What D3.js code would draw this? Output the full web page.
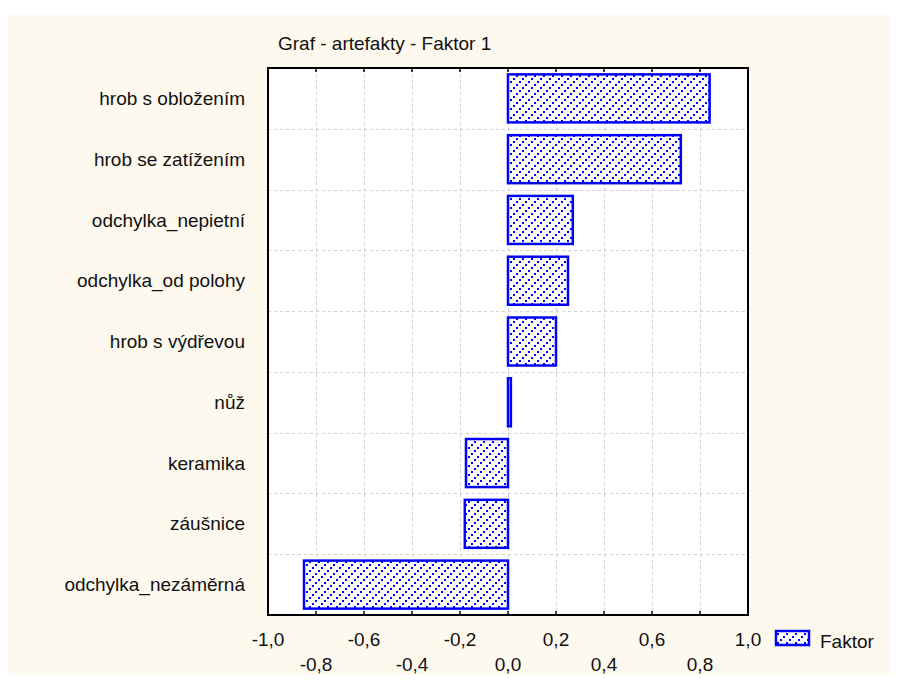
<!DOCTYPE html>
<html>
<head>
<meta charset="utf-8">
<script src="https://cdn.jsdelivr.net/npm/d3@7"></script>
<style>
  body { margin: 0; background: #fff; }
  text { font-family: "Liberation Sans", Arial, sans-serif; fill: #111; }
</style>
</head>
<body>
<div id="chart"></div>
<script>
// chart data
var categories = ["hrob s obložením", "hrob se zatížením", "odchylka_nepietní", "odchylka_od polohy",
                  "hrob s výdřevou", "nůž", "keramika", "záušnice", "odchylka_nezáměrná"];
var values = [0.84, 0.72, 0.27, 0.25, 0.20, 0.012, -0.175, -0.18, -0.85];
var tickValues = [-1.0, -0.8, -0.6, -0.4, -0.2, 0.0, 0.2, 0.4, 0.6, 0.8, 1.0];
var title = "Graf - artefakty - Faktor 1";
var seriesName = "Faktor";

var width = 898, height = 680;
var plot = { left: 268, right: 748, top: 68, bottom: 615 };
var blue = "#0000ff";

var svg = d3.select("#chart").append("svg")
    .attr("width", width)
    .attr("height", height);

// hatch fill: dotted diagonal lines
var defs = svg.append("defs");
var pat = defs.append("pattern")
    .attr("id", "hatch")
    .attr("patternUnits", "userSpaceOnUse")
    .attr("width", 9).attr("height", 9);
pat.append("rect").attr("width", 9).attr("height", 9).attr("fill", "#fff");
[[0, 6], [3, 3], [6, 0]].forEach(function(p) {
    pat.append("rect").attr("x", p[0]).attr("y", p[1])
        .attr("width", 2).attr("height", 2)
        .attr("fill", blue).attr("shape-rendering", "crispEdges");
});

// cream panel
svg.append("rect")
    .attr("x", 8).attr("y", 15)
    .attr("width", 882).attr("height", 660)
    .attr("fill", "#fef9ee");

var x = d3.scaleLinear().domain([-1, 1]).range([plot.left, plot.right]);
var y = d3.scaleBand().domain(categories).range([plot.top, plot.bottom]).paddingInner(0.21).paddingOuter(0.105);
var band = d3.scaleBand().domain(categories).range([plot.top, plot.bottom]);

svg.append("rect")
    .attr("x", plot.left).attr("y", plot.top)
    .attr("width", plot.right - plot.left).attr("height", plot.bottom - plot.top)
    .attr("fill", "#fff");

// grid lines
svg.append("g").selectAll("line")
    .data(tickValues.slice(1, -1))
    .enter().append("line")
    .attr("x1", d => x(d) + 0.5).attr("x2", d => x(d) + 0.5)
    .attr("y1", plot.top).attr("y2", plot.bottom)
    .attr("stroke", "#cfcfcf").attr("stroke-dasharray", "3,3");
svg.append("g").selectAll("line")
    .data(categories.slice(1))
    .enter().append("line")
    .attr("x1", plot.left).attr("x2", plot.right)
    .attr("y1", d => Math.round(band(d)) + 0.5).attr("y2", d => Math.round(band(d)) + 0.5)
    .attr("stroke", "#cfcfcf").attr("stroke-dasharray", "3,3");

// bars
svg.append("g").selectAll("rect")
    .data(values)
    .enter().append("rect")
    .attr("x", d => x(Math.min(0, d)))
    .attr("y", (d, i) => y(categories[i]))
    .attr("width", d => Math.abs(x(d) - x(0)))
    .attr("height", y.bandwidth())
    .attr("fill", "url(#hatch)")
    .attr("stroke", blue)
    .attr("stroke-width", 2.5);

// ticks on top and bottom, pointing inward
var tickG = svg.append("g");
tickG.selectAll(".tt").data(tickValues).enter().append("line")
    .attr("x1", d => x(d)).attr("x2", d => x(d))
    .attr("y1", plot.top).attr("y2", plot.top + 4)
    .attr("stroke", "#000").attr("stroke-width", 1.5);
tickG.selectAll(".tb").data(tickValues).enter().append("line")
    .attr("x1", d => x(d)).attr("x2", d => x(d))
    .attr("y1", plot.bottom).attr("y2", plot.bottom - 4)
    .attr("stroke", "#000").attr("stroke-width", 1.5);

// frame
svg.append("rect")
    .attr("x", plot.left).attr("y", plot.top)
    .attr("width", plot.right - plot.left).attr("height", plot.bottom - plot.top)
    .attr("fill", "none").attr("stroke", "#000").attr("stroke-width", 2);

// tick labels, staggered in two rows
var fmt = d => d3.format(".1f")(d).replace(".", ",").replace("−", "-");
svg.append("g").selectAll("text")
    .data(tickValues)
    .enter().append("text")
    .attr("x", d => x(d))
    .attr("y", (d, i) => i % 2 === 0 ? 646 : 671)
    .attr("text-anchor", "middle")
    .attr("font-size", 19)
    .text(fmt);

// category labels
svg.append("g").selectAll("text")
    .data(categories)
    .enter().append("text")
    .attr("x", 245)
    .attr("y", d => band(d) + band.bandwidth() / 2)
    .attr("dy", "0.35em")
    .attr("text-anchor", "end")
    .attr("font-size", 19)
    .text(d => d);

// title
svg.append("text")
    .attr("x", 278).attr("y", 50)
    .attr("font-size", 19)
    .text(title);

// legend
svg.append("rect")
    .attr("x", 776).attr("y", 631)
    .attr("width", 33).attr("height", 14)
    .attr("fill", "url(#hatch)")
    .attr("stroke", blue).attr("stroke-width", 2.5);
svg.append("text")
    .attr("x", 820).attr("y", 648)
    .attr("font-size", 19)
    .text(seriesName);
</script>
</body>
</html>
